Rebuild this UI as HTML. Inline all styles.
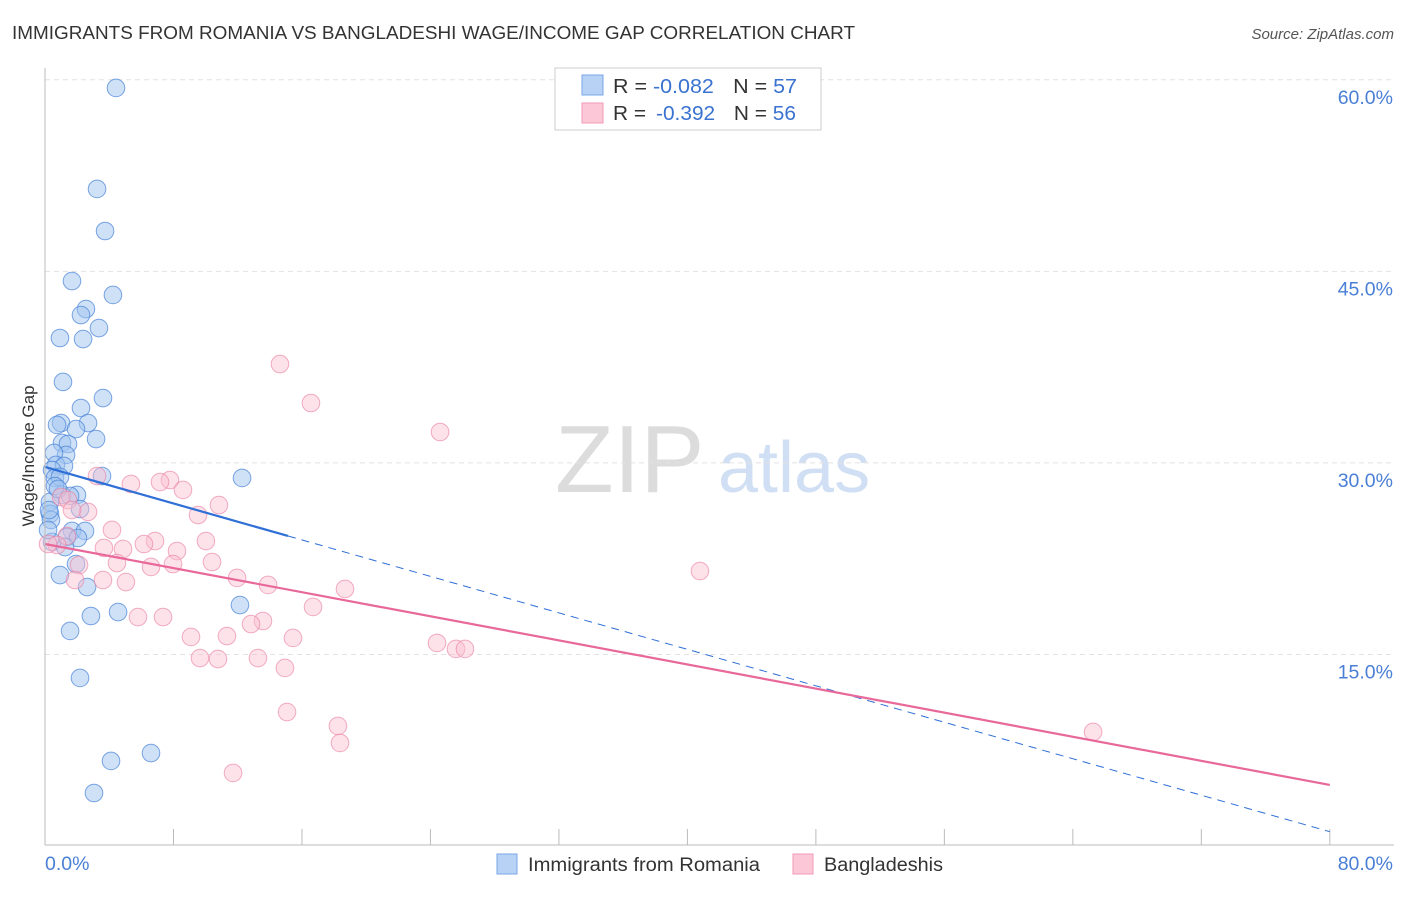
<!DOCTYPE html>
<html><head><meta charset="utf-8"><style>
body{margin:0;background:#fff;font-family:"Liberation Sans",sans-serif;}
svg text{font-family:"Liberation Sans",sans-serif;}
</style></head><body>
<svg id="chart" width="1406" height="892" viewBox="0 0 1406 892" xmlns="http://www.w3.org/2000/svg">
<text x="12" y="39" font-size="18" fill="#333" textLength="843" lengthAdjust="spacingAndGlyphs">IMMIGRANTS FROM ROMANIA VS BANGLADESHI WAGE/INCOME GAP CORRELATION CHART</text>
<text x="1394" y="39" font-size="15" fill="#555" text-anchor="end" font-style="italic">Source: ZipAtlas.com</text>
<text transform="translate(34,456) rotate(-90)" font-size="17" fill="#333" text-anchor="middle">Wage/Income Gap</text>
<g><text x="555" y="492" font-size="96" fill="#dcdcdc" font-family="Liberation Serif" >ZIP</text><text x="718" y="492" font-size="72" fill="#d0dff3">atlas</text></g>
<g id="grid"></g><g id="pts"></g><g id="lines"></g>
<line x1="45" y1="845" x2="1394" y2="845" stroke="#bbb"/>
<line x1="45" y1="68" x2="45" y2="845" stroke="#bbb"/>
<text x="45" y="870" font-size="19.5" fill="#4a7fd6">0.0%</text>
<text x="1393" y="870" font-size="19.5" fill="#4a7fd6" text-anchor="end">80.0%</text>
<g>
<rect x="555" y="68" width="266" height="62" fill="#fff" stroke="#ccc"/>
<rect x="582" y="75" width="21" height="20" fill="#b8d2f5" stroke="#7aa6e6"/>
<rect x="582" y="103" width="21" height="20" fill="#fcc8d8" stroke="#f09ab4"/>
<text x="613" y="93" font-size="20" fill="#333" textLength="184" lengthAdjust="spacingAndGlyphs">R = <tspan fill="#3a72d0">-0.082</tspan><tspan dx="18">N = </tspan><tspan fill="#3a72d0">57</tspan></text>
<text x="613" y="120" font-size="20" fill="#333" textLength="183" lengthAdjust="spacingAndGlyphs">R = <tspan fill="#3a72d0" dx="4">-0.392</tspan><tspan dx="18">N = </tspan><tspan fill="#3a72d0">56</tspan></text>
</g>
<g>
<rect x="497" y="854" width="20" height="20" fill="#b8d2f5" stroke="#7aa6e6"/>
<text x="528" y="871" font-size="19" fill="#333" textLength="232" lengthAdjust="spacingAndGlyphs">Immigrants from Romania</text>
<rect x="793" y="854" width="20" height="20" fill="#fcc8d8" stroke="#f09ab4"/>
<text x="824" y="871" font-size="19" fill="#333" textLength="119" lengthAdjust="spacingAndGlyphs">Bangladeshis</text>
</g>
</svg>
<script>
const yTicks=[15,30,45,60];
const yTickLabels=["15.0%","30.0%","45.0%","60.0%"];
const xTicks=[0,8,16,24,32,40,48,56,64,72,80];
const blueX=[4.42,3.24,3.74,1.68,4.23,2.55,2.24,3.36,0.93,2.37,1.12,3.61,2.24,1.00,0.75,2.68,1.93,1.06,1.43,3.18,1.31,0.56,0.68,1.18,0.44,0.62,0.93,3.55,12.27,1.06,1.99,1.56,0.31,2.18,0.31,1.68,2.49,1.37,2.05,0.44,1.25,0.93,1.93,2.62,4.55,2.86,1.56,12.14,2.18,4.11,6.60,3.05,0.37,0.19,0.62,0.81,0.25];
const blueY=[59.36,51.45,48.16,44.24,43.15,42.05,41.58,40.56,39.78,39.70,36.34,35.08,34.30,33.12,32.97,33.12,32.65,31.56,31.48,31.87,30.62,30.78,29.84,29.76,29.44,28.82,28.90,28.97,28.82,27.49,27.49,27.41,26.94,26.39,26.00,24.67,24.67,24.20,24.12,23.81,23.41,21.22,22.08,20.28,18.32,18.01,16.84,18.87,13.16,6.66,7.28,4.15,25.53,24.75,28.19,27.96,26.31];
const pinkX=[14.63,16.56,24.60,3.24,7.78,7.16,8.59,10.83,9.53,5.35,1.00,1.43,2.68,1.68,4.17,6.85,6.16,3.67,4.86,8.22,1.37,10.02,0.75,0.19,4.48,6.60,7.97,10.40,2.12,11.96,13.89,3.61,5.04,1.87,18.68,16.69,5.79,7.35,13.57,12.83,9.09,11.33,15.44,24.41,25.59,26.15,9.65,10.77,13.26,14.94,15.07,18.24,18.37,11.71,40.78,65.26];
const pinkY=[37.74,34.69,32.42,28.97,28.66,28.50,27.88,26.70,25.92,28.35,27.33,27.09,26.16,26.31,24.75,23.88,23.65,23.34,23.26,23.10,24.28,23.88,23.57,23.65,22.16,21.85,22.08,22.24,22.00,20.99,20.44,20.83,20.67,20.83,20.13,18.72,17.93,17.93,17.62,17.38,16.37,16.44,16.29,15.90,15.43,15.43,14.72,14.64,14.72,13.94,10.49,9.40,8.07,5.72,21.53,8.93];
const blueTrend=[29.68,1.12];
const pinkTrend=[23.65,4.78];
const NS="http://www.w3.org/2000/svg";
const sx=v=>45+v*16.06, sy=v=>846-v*12.77;
function mk(t,a,p){const e=document.createElementNS(NS,t);for(const k in a)e.setAttribute(k,a[k]);p.appendChild(e);return e;}
const grid=document.getElementById('grid');
yTicks.forEach((t,i)=>{
 const l=mk('line',{x1:45,x2:1394,y1:sy(t),y2:sy(t),stroke:'#e2e2e2','stroke-dasharray':'5,4'},grid);
 
 
 const tx=mk('text',{x:1393,y:sy(t)+24,'font-size':19.5,fill:'#4a7fd6','text-anchor':'end'},grid);
 tx.textContent=yTickLabels[i];
 
 
});
xTicks.forEach(t=>{
 const l=mk('line',{x1:sx(t),x2:sx(t),y1:829,y2:845,stroke:'#bbb'},grid);
 
 
});
const pts=document.getElementById('pts');
blueX.forEach((x,i)=>{
 const c=mk('circle',{cx:sx(x),cy:sy(blueY[i]),r:8.8,fill:'rgba(160,196,240,0.5)',stroke:'rgba(70,130,215,0.7)','stroke-width':1},pts);
 
 
});
pinkX.forEach((x,i)=>{
 const c=mk('circle',{cx:sx(x),cy:sy(pinkY[i]),r:8.8,fill:'rgba(250,190,208,0.45)',stroke:'rgba(235,130,165,0.65)','stroke-width':1},pts);
 
 
});
const lines=document.getElementById('lines');
const bAt=x=>blueTrend[0]+(blueTrend[1]-blueTrend[0])*x/80;
let l1=mk('line',{x1:sx(0),y1:sy(bAt(0)),x2:sx(15.13),y2:sy(bAt(15.13)),stroke:'#2f6fd6','stroke-width':2.2},lines);


let l2=mk('line',{x1:sx(15.13),y1:sy(bAt(15.13)),x2:sx(80),y2:sy(bAt(80)),stroke:'#2f6fd6','stroke-width':1,'stroke-dasharray':'8,6'},lines);


let l3=mk('line',{x1:sx(0),y1:sy(pinkTrend[0]),x2:sx(80),y2:sy(pinkTrend[1]),stroke:'#e8689a','stroke-width':2.2},lines);


</script>
</body></html>
